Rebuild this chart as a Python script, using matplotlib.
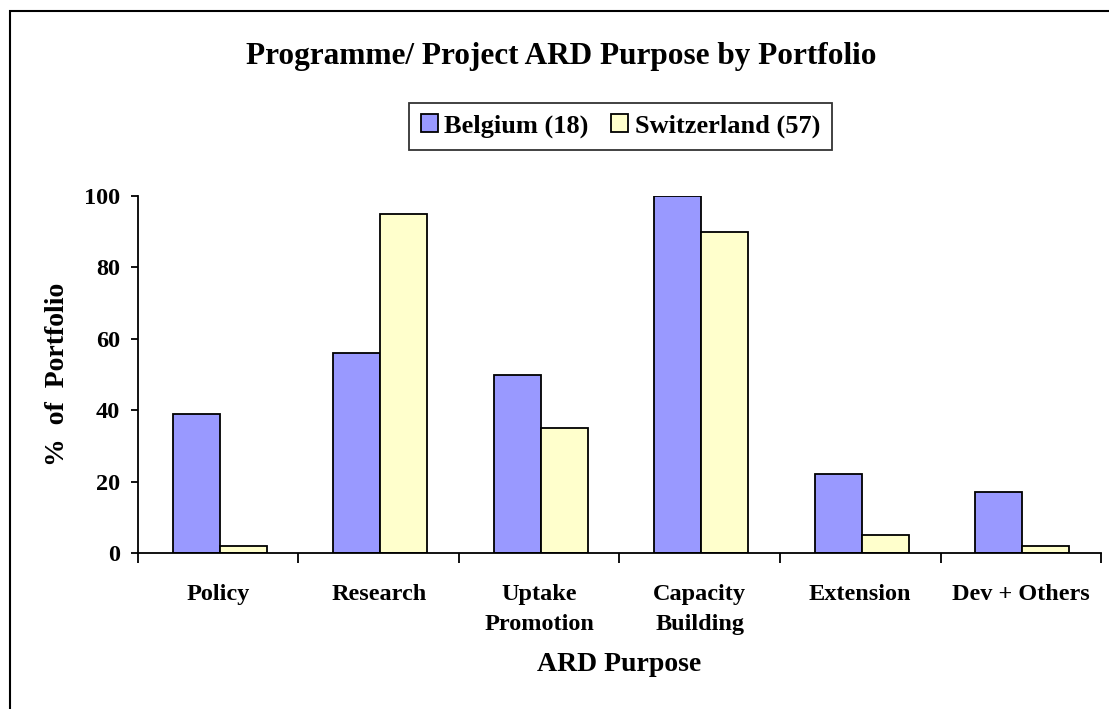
import numpy as np
import matplotlib
matplotlib.use("Agg")
import matplotlib.pyplot as plt
from matplotlib.patches import Rectangle

# Data
categories = ["Policy", "Research", "Uptake\nPromotion", "Capacity\nBuilding", "Extension", "Dev + Others"]
belgium = [39, 56, 50, 100, 22, 17]
switzerland = [2, 95, 35, 90, 5, 2]
series_labels = ["Belgium (18)", "Switzerland (57)"]

plt.rcParams['font.family'] = ['Liberation Serif', 'DejaVu Serif']
plt.rcParams['font.weight'] = 'bold'

fig = plt.figure(figsize=(11.09, 7.09), dpi=100)
ax = fig.add_axes([0.1244, 0.22, 0.8684, 0.5035])

# outer chart frame (cropped on the right and bottom like the reference)
fig.patches.append(Rectangle((10 / 1109, -0.01), 1.1, 1 - 11 / 709 + 0.01,
                             transform=fig.transFigure, fill=False,
                             edgecolor='black', linewidth=1.5))

x = np.arange(len(categories))
w = 0.293
ax.bar(x - w / 2 + 0.01, belgium, w, color='#9999FF', edgecolor='black', linewidth=1.3,
       label=series_labels[0])
ax.bar(x + w / 2 + 0.01, switzerland, w, color='#FFFFCC', edgecolor='black', linewidth=1.3,
       label=series_labels[1])

ax.set_xlim(-0.5, len(categories) - 0.5)
ax.set_ylim(0, 100)
ax.set_yticks([0, 20, 40, 60, 80, 100])
ax.spines['top'].set_visible(False)
ax.spines['right'].set_visible(False)
ax.spines['left'].set_linewidth(1.3)
ax.spines['bottom'].set_linewidth(1.3)

# category labels centred, tick marks between categories
ax.set_xticks(x)
ax.set_xticklabels(categories, fontsize=17.5, fontweight='bold', linespacing=1.6)
ax.tick_params(axis='x', length=0, pad=22)
ax.set_xticks(np.arange(len(categories) + 1) - 0.5, minor=True)
ax.tick_params(axis='x', which='minor', length=7, width=1.3, direction='out')
ax.tick_params(axis='y', length=5, width=1.3, direction='out', labelsize=17.5, pad=8)
for lab in ax.get_yticklabels():
    lab.set_fontweight('bold')

ax.set_xlabel("ARD Purpose", fontsize=20, fontweight='bold', labelpad=12)
ax.set_ylabel("%  of  Portfolio", fontsize=20, fontweight='bold', labelpad=10)

fig.text(0.506, 0.921, "Programme/ Project ARD Purpose by Portfolio",
         ha='center', va='center', fontsize=22.5, fontweight='bold')

leg = fig.legend(loc='center', bbox_to_anchor=(0.5595, 0.822), ncol=2,
                 fontsize=19, frameon=True, fancybox=False, edgecolor='black',
                 handlelength=0.64, handleheight=0.64, handletextpad=0.25,
                 columnspacing=0.85, borderpad=0.45)
leg.get_frame().set_linewidth(1.3)
for t in leg.get_texts():
    t.set_fontweight('bold')

fig.savefig("out.png", dpi=100)
